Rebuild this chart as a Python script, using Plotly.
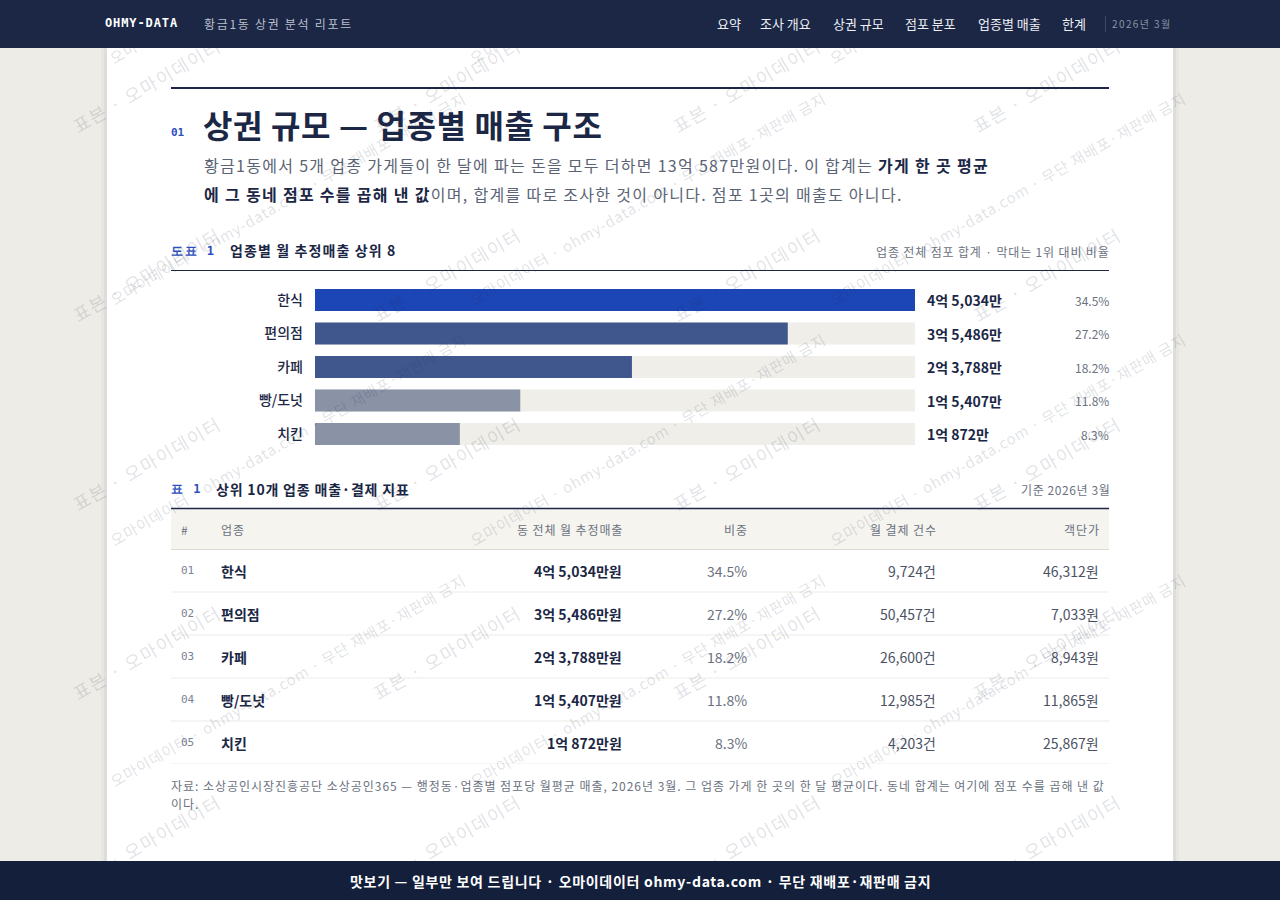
import plotly.graph_objects as go

W, H = 1280, 900

# ---------------- data ----------------
categories = ["한식", "편의점", "카페", "빵/도넛", "치킨"]
sales_man = [45034, 35486, 23788, 15407, 10872]          # 월 추정매출 (만원)
share_pct = [34.5, 27.2, 18.2, 11.8, 8.3]                 # 비중 (%)
pay_counts = [9724, 50457, 26600, 12985, 4203]            # 월 결제 건수
unit_price = [46312, 7033, 8943, 11865, 25867]            # 객단가 (원)
row_ids = ["01", "02", "03", "04", "05"]
table_headers = ["#", "업종", "동 전체 월 추정매출", "비중", "월 결제 건수", "객단가"]
nav_items = ["요약", "조사 개요", "상권 규모", "점포 분포", "업종별 매출", "한계"]
bar_colors = ["#1c45b5", "#40578e", "#40578e", "#8a92a6", "#8a92a6"]

# ---------------- helpers ----------------
KR = "Noto Sans CJK KR"
MONO = "DejaVu Sans Mono"
NAVY = "#1b2745"
BLUE = "#2d4fbf"
GRAY = "#6b7280"


def px(x):
    return x / W


def py(y):
    return 1 - y / H


def ls(text, sp):
    return f"<span style='letter-spacing:{sp}px'>{text}</span>"


def eok_man(v):
    e, m = divmod(v, 10000)
    return f"{e}억 {m:,}만" if e else f"{m:,}만"


total = sum(sales_man)

fig = go.Figure()

# track bars (full width = top value) and the value bars
track = [max(sales_man)] * len(categories)
fig.add_trace(go.Bar(x=track, y=categories, orientation="h",
                     marker=dict(color="#efeee9", line=dict(width=0)),
                     hoverinfo="skip", showlegend=False))
fig.add_trace(go.Bar(x=sales_man, y=categories, orientation="h",
                     marker=dict(color=bar_colors, line=dict(width=0)),
                     hoverinfo="skip", showlegend=False))
# invisible carrier trace for the table row axis
fig.add_trace(go.Scatter(x=share_pct, y=categories, mode="markers", xaxis="x2", yaxis="y2",
                         marker=dict(opacity=0), hoverinfo="skip", showlegend=False))

shapes = []
# card shadow + card
shapes.append(dict(type="rect", xref="paper", yref="paper", x0=px(101), x1=px(1179), y0=py(861), y1=py(48),
                   fillcolor="rgba(0,0,0,0.025)", line=dict(width=0), layer="below"))
shapes.append(dict(type="rect", xref="paper", yref="paper", x0=px(104), x1=px(1176), y0=py(861), y1=py(48),
                   fillcolor="rgba(0,0,0,0.035)", line=dict(width=0), layer="below"))
shapes.append(dict(type="rect", xref="paper", yref="paper", x0=px(107), x1=px(1173), y0=py(861), y1=py(48),
                   fillcolor="#ffffff", line=dict(width=0), layer="below"))
# nav / footer backing
shapes.append(dict(type="rect", xref="paper", yref="paper", x0=0, x1=1, y0=py(48), y1=1,
                   fillcolor="#1b2745", line=dict(width=0)))
shapes.append(dict(type="rect", xref="paper", yref="paper", x0=0, x1=1, y0=0, y1=py(861),
                   fillcolor="#141f3c", line=dict(width=0)))
# rules
shapes.append(dict(type="line", xref="paper", yref="paper", x0=px(171), x1=px(1109), y0=py(88), y1=py(88),
                   line=dict(color=NAVY, width=2)))
shapes.append(dict(type="line", xref="paper", yref="paper", x0=px(171), x1=px(1109), y0=py(270.5), y1=py(270.5),
                   line=dict(color=NAVY, width=1)))
shapes.append(dict(type="line", xref="paper", yref="paper", x0=px(171), x1=px(1109), y0=py(508.5), y1=py(508.5),
                   line=dict(color=NAVY, width=1.5)))
# table header background and bottom line
shapes.append(dict(type="rect", xref="paper", yref="paper", x0=px(171), x1=px(1109), y0=py(549), y1=py(509),
                   fillcolor="#f5f4ef", line=dict(width=0), layer="below"))
shapes.append(dict(type="line", xref="paper", yref="paper", x0=px(171), x1=px(1109), y0=py(549.5), y1=py(549.5),
                   line=dict(color="#dcdad3", width=1)))
# row separators via the table row axis
for i in range(len(categories)):
    shapes.append(dict(type="line", xref="paper", yref="y2", x0=px(171), x1=px(1109), y0=i + 0.5, y1=i + 0.5,
                       line=dict(color="#ecebe6", width=1)))

ann = []


def A(text, x, y, size=13, color=NAVY, family=KR, xanchor="left", yanchor="middle", yref="paper", weight=None,
      **kw):
    f = dict(family=family, size=size, color=color)
    if weight:
        f["weight"] = weight
    d = dict(text=text, x=x, y=y, xref="paper", yref=yref, xanchor=xanchor, yanchor=yanchor,
             showarrow=False, font=f, borderpad=0, borderwidth=0)
    d.update(kw)
    ann.append(d)


# ---- section heading ----
A("<b>01</b>", px(171), py(132), size=11, color=BLUE, family=MONO)
A(ls("<b>상권 규모 — 업종별 매출 구조</b>", 0.6), px(203), py(124), size=32, color=NAVY)
A(ls(f"황금1동에서 {len(categories)}개 업종 가게들이 한 달에 파는 돈을 모두 더하면 {eok_man(total)}원이다. "
     f"이 합계는 <span style='color:{NAVY}'><b>가게 한 곳 평균</b></span>", 1.3),
  px(204), py(165), size=16, color="#5b6475")
A(ls(f"<span style='color:{NAVY}'><b>에 그 동네 점포 수를 곱해 낸 값</b></span>이며, 합계를 따로 조사한 것이 아니다. "
     f"점포 1곳의 매출도 아니다.", 1.3), px(204), py(194), size=16, color="#5b6475")

# ---- chart heading ----
A(ls("<b>도표 1</b>", 1.5), px(171), py(251), size=12, color=BLUE, family=MONO)
A(ls("<b>업종별 월 추정매출 상위 8</b>", 1.1), px(230), py(250), size=14, color=NAVY)
A(ls("업종 전체 점포 합계 · 막대는 1위 대비 비율", 0.85), px(1110), py(251), size=12, color=GRAY, xanchor="right")

# bar value + share labels
for c, v, s in zip(categories, sales_man, share_pct):
    A(f"<b>{eok_man(v)}</b>", px(927), c, size=14, color=NAVY, yref="y")
    A(f"{s:.1f}%", px(1109), c, size=12, color=GRAY, xanchor="right", yref="y")

# ---- table heading ----
A(ls("<b>표 1</b>", 1.5), px(171), py(489), size=12, color=BLUE, family=MONO)
A(ls("<b>상위 10개 업종 매출·결제 지표</b>", 0.8), px(216), py(489), size=14, color=NAVY)
A(ls("기준 2026년 3월", 0.6), px(1110), py(489), size=12, color=GRAY, xanchor="right")

col_x = [181, 221, 622, 747, 936, 1099]
col_anchor = ["left", "left", "right", "right", "right", "right"]
for h, x, a in zip(table_headers, col_x, col_anchor):
    A(ls(h, 0.9), px(x + (1 if a == "right" else 0)), py(529), size=12, color=GRAY, xanchor=a)

for rid, c, v, s, n, p in zip(row_ids, categories, sales_man, share_pct, pay_counts, unit_price):
    A(rid, px(181), c, size=11, color="#7a8294", family=MONO, yref="y2")
    A(f"<b>{c}</b>", px(221), c, size=14, color=NAVY, yref="y2")
    A(f"<b>{eok_man(v)}원</b>", px(622), c, size=14, color=NAVY, xanchor="right", yref="y2")
    A(f"{s:.1f}%", px(747), c, size=14, color=GRAY, xanchor="right", yref="y2")
    A(f"{n:,}건", px(936), c, size=14, color="#4b5263", xanchor="right", yref="y2")
    A(f"{p:,}원", px(1099), c, size=14, color="#4b5263", xanchor="right", yref="y2")

A(ls("자료: 소상공인시장진흥공단 소상공인365 — 행정동·업종별 점포당 월평균 매출, 2026년 3월. 그 업종 가게 한 곳의 한 달 평균이다. "
     "동네 합계는 여기에 점포 수를 곱해 낸 값", 0.97), px(171), py(785), size=12, color=GRAY)
A(ls("이다.", 0.97), px(171), py(803), size=12, color=GRAY)

# ---- watermark ----
WM_A = "표본 · 오마이데이터"
WM_B = "오마이데이터 · ohmy-data.com · 무단 재배포·재판매 금지"
WM_B_TOP = "오마이데이터 ·"   # top row: the rest of the line sits under the nav bar
WM_COL = "rgba(30,40,70,0.15)"
for i in range(4):
    for j in range(5):
        A(ls(WM_A, 1.5), px(68 + 300 * i), py(138 + 189 * j), size=18, color=WM_COL,
          yanchor="bottom", textangle=-30)
for i in range(3):
    for j in range(4):
        A(ls(WM_B_TOP if j == 0 else WM_B, 0.8), px(106 + 360 * i), py(68 + 241 * j), size=15, color=WM_COL,
          yanchor="bottom", textangle=-30)

# ---- nav bar & footer (drawn over the watermark) ----
A(" ", 0, 1, size=10, xanchor="left", yanchor="top", width=W, height=48, bgcolor="#1b2745")
A(" ", 0, 0, size=10, xanchor="left", yanchor="bottom", width=W, height=39, bgcolor="#141f3c")
A(ls("<b>OHMY-DATA</b>", 0.9), px(105), py(23), size=12, color="#ffffff", family=MONO)
A(ls("황금1동 상권 분석 리포트", 1.7), px(204), py(23), size=12, color="#b9bfcd")
nav_x = [717, 760, 833, 905, 978, 1062]
for t, x in zip(nav_items, nav_x):
    A(t, px(x), py(23), size=13, color="#eef0f5")
A(" ", px(1105), py(24), size=6, width=1, height=16, bgcolor="#3d4866", xanchor="left")
A(ls("2026년 3월", 1.4), px(1112), py(23), size=10, color="#8a93a8")
A(ls("<b>맛보기 — 일부만 보여 드립니다 · 오마이데이터 ohmy-data.com · 무단 재배포·재판매 금지</b>", 0.7),
  0.5, py(880.5), size=14, color="#ffffff", xanchor="center")

fig.update_layout(
    width=W, height=H, autosize=False,
    margin=dict(l=0, r=0, t=0, b=0, pad=0),
    paper_bgcolor="#eeece7", plot_bgcolor="rgba(0,0,0,0)",
    barmode="overlay", bargap=0.343,
    hovermode=False, showlegend=False,
    xaxis=dict(domain=[px(315), px(915)], range=[0, max(sales_man)], visible=False, fixedrange=True),
    yaxis=dict(domain=[py(450.75), py(283.25)], type="category", categoryarray=categories,
               autorange="reversed", showgrid=False, zeroline=False, showline=False, ticks="",
               ticklabelstandoff=11, tickfont=dict(family=KR, size=14, color=NAVY, weight=500),
               fixedrange=True),
    xaxis2=dict(domain=[px(171), px(1109)], visible=False, anchor="y2", fixedrange=True),
    yaxis2=dict(domain=[py(764), py(549)], type="category", categoryarray=categories,
                range=[len(categories) - 0.5, -0.5], visible=False, anchor="x2", fixedrange=True),
    shapes=shapes,
    annotations=ann,
    font=dict(family=KR),
)

fig.write_html("out.html", config={"displayModeBar": False, "staticPlot": True},
               post_script="document.body.style.margin='0';document.body.style.overflow='hidden';")
